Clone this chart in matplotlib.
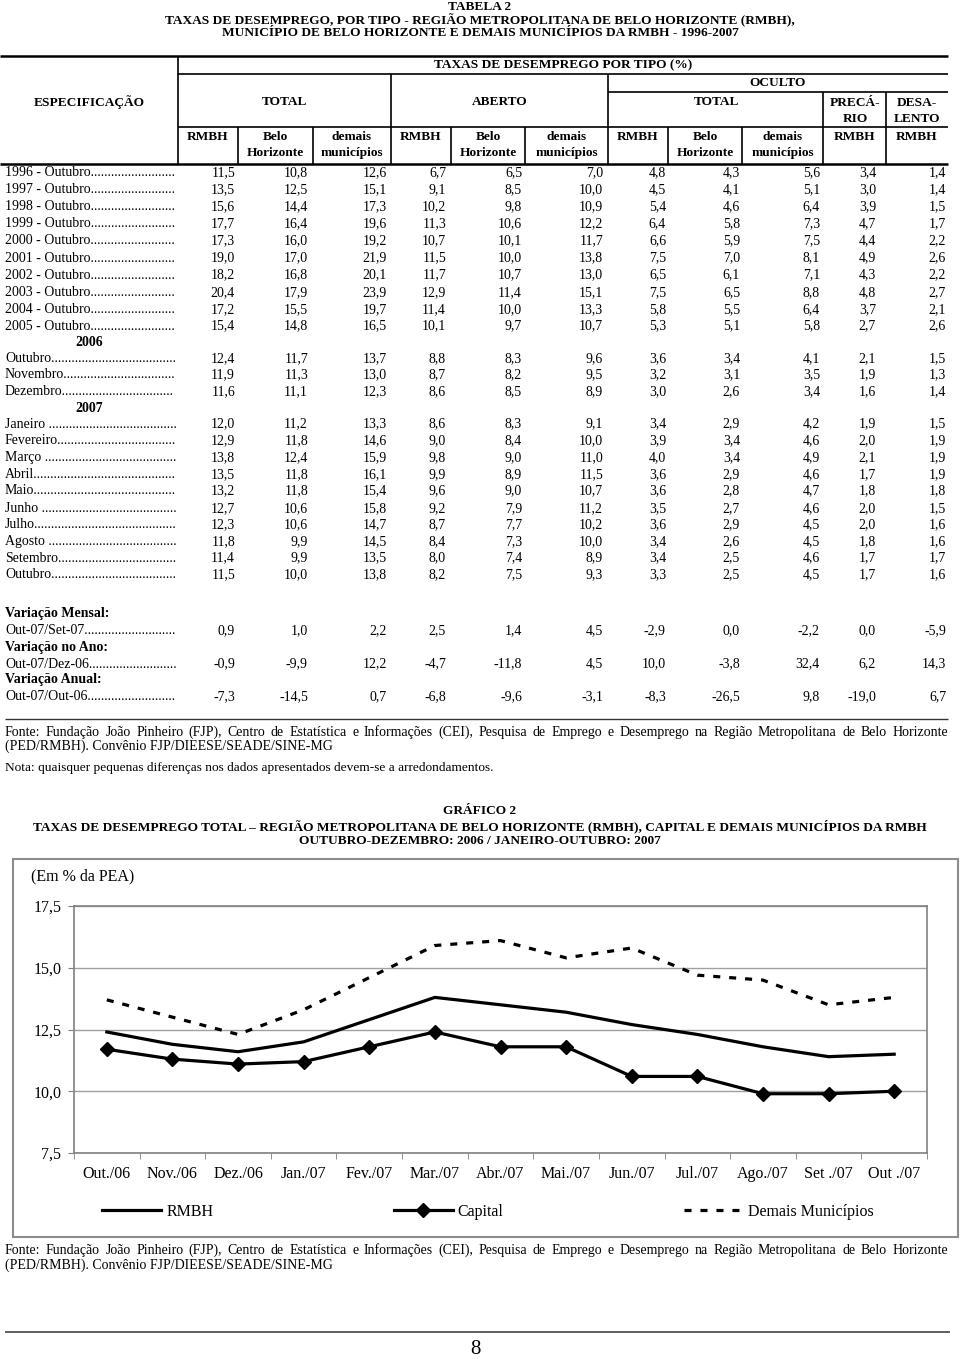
import matplotlib
matplotlib.use("Agg")
import matplotlib.pyplot as plt
from matplotlib.patches import Rectangle

# ---- table data (Tabela 2): one list per column, rows in the table order ----
row_labels = ["1996 - Outubro", "1997 - Outubro", "1998 - Outubro", "1999 - Outubro",
              "2000 - Outubro", "2001 - Outubro", "2002 - Outubro", "2003 - Outubro",
              "2004 - Outubro", "2005 - Outubro",
              "Outubro", "Novembro", "Dezembro",
              "Janeiro ", "Fevereiro", "Março ", "Abril", "Maio", "Junho ", "Julho",
              "Agosto ", "Setembro", "Outubro",
              "Out-07/Set-07", "Out-07/Dez-06", "Out-07/Out-06"]
tot_rmbh = [11.5, 13.5, 15.6, 17.7, 17.3, 19.0, 18.2, 20.4, 17.2, 15.4, 12.4, 11.9, 11.6,
            12.0, 12.9, 13.8, 13.5, 13.2, 12.7, 12.3, 11.8, 11.4, 11.5, 0.9, -0.9, -7.3]
tot_bh = [10.8, 12.5, 14.4, 16.4, 16.0, 17.0, 16.8, 17.9, 15.5, 14.8, 11.7, 11.3, 11.1,
          11.2, 11.8, 12.4, 11.8, 11.8, 10.6, 10.6, 9.9, 9.9, 10.0, 1.0, -9.9, -14.5]
tot_dem = [12.6, 15.1, 17.3, 19.6, 19.2, 21.9, 20.1, 23.9, 19.7, 16.5, 13.7, 13.0, 12.3,
           13.3, 14.6, 15.9, 16.1, 15.4, 15.8, 14.7, 14.5, 13.5, 13.8, 2.2, 12.2, 0.7]
abe_rmbh = [6.7, 9.1, 10.2, 11.3, 10.7, 11.5, 11.7, 12.9, 11.4, 10.1, 8.8, 8.7, 8.6,
            8.6, 9.0, 9.8, 9.9, 9.6, 9.2, 8.7, 8.4, 8.0, 8.2, 2.5, -4.7, -6.8]
abe_bh = [6.5, 8.5, 9.8, 10.6, 10.1, 10.0, 10.7, 11.4, 10.0, 9.7, 8.3, 8.2, 8.5,
          8.3, 8.4, 9.0, 8.9, 9.0, 7.9, 7.7, 7.3, 7.4, 7.5, 1.4, -11.8, -9.6]
abe_dem = [7.0, 10.0, 10.9, 12.2, 11.7, 13.8, 13.0, 15.1, 13.3, 10.7, 9.6, 9.5, 8.9,
           9.1, 10.0, 11.0, 11.5, 10.7, 11.2, 10.2, 10.0, 8.9, 9.3, 4.5, 4.5, -3.1]
ocu_rmbh = [4.8, 4.5, 5.4, 6.4, 6.6, 7.5, 6.5, 7.5, 5.8, 5.3, 3.6, 3.2, 3.0,
            3.4, 3.9, 4.0, 3.6, 3.6, 3.5, 3.6, 3.4, 3.4, 3.3, -2.9, 10.0, -8.3]
ocu_bh = [4.3, 4.1, 4.6, 5.8, 5.9, 7.0, 6.1, 6.5, 5.5, 5.1, 3.4, 3.1, 2.6,
          2.9, 3.4, 3.4, 2.9, 2.8, 2.7, 2.9, 2.6, 2.5, 2.5, 0.0, -3.8, -26.5]
ocu_dem = [5.6, 5.1, 6.4, 7.3, 7.5, 8.1, 7.1, 8.8, 6.4, 5.8, 4.1, 3.5, 3.4,
           4.2, 4.6, 4.9, 4.6, 4.7, 4.6, 4.5, 4.5, 4.6, 4.5, -2.2, 32.4, 9.8]
prec_rmbh = [3.4, 3.0, 3.9, 4.7, 4.4, 4.9, 4.3, 4.8, 3.7, 2.7, 2.1, 1.9, 1.6,
             1.9, 2.0, 2.1, 1.7, 1.8, 2.0, 2.0, 1.8, 1.7, 1.7, 0.0, 6.2, -19.0]
desa_rmbh = [1.4, 1.4, 1.5, 1.7, 2.2, 2.6, 2.2, 2.7, 2.1, 2.6, 1.5, 1.3, 1.4,
             1.5, 1.9, 1.9, 1.9, 1.8, 1.5, 1.6, 1.6, 1.7, 1.6, -5.9, 14.3, 6.7]
columns = [tot_rmbh, tot_bh, tot_dem, abe_rmbh, abe_bh, abe_dem,
           ocu_rmbh, ocu_bh, ocu_dem, prec_rmbh, desa_rmbh]

# ---- chart data (Gráfico 2): Out/06 .. Out/07 = monthly rows of the TOTAL columns ----
months = ["Out./06", "Nov./06", "Dez./06", "Jan./07", "Fev./07", "Mar./07", "Abr./07",
          "Mai./07", "Jun./07", "Jul./07", "Ago./07", "Set ./07", "Out ./07"]
rmbh = tot_rmbh[10:23]
capital = tot_bh[10:23]
demais = tot_dem[10:23]
yticks = [7.5, 10.0, 12.5, 15.0, 17.5]

FONT = "Liberation Serif"
W, H = 960, 1359
plt.rcParams.update({"font.family": FONT, "font.size": 10})

fig = plt.figure(figsize=(W / 100, H / 100), dpi=100)
page = fig.add_axes([0, 0, 1, 1], zorder=0)
page.set_xlim(0, W); page.set_ylim(H, 0); page.axis("off")
rend = fig.canvas.get_renderer()


def fmt(v):
    return f"{v:.1f}".replace(".", ",")


def hline(y, x0, x1, lw=1.2, color="black"):
    page.plot([x0, x1], [y, y], color=color, lw=lw, solid_capstyle="butt")


def vline(x, y0, y1, lw=1.2):
    page.plot([x, x], [y0, y1], color="black", lw=lw, solid_capstyle="butt")


def txt(x, y, s, ha="center", bold=False, **kw):
    kw.setdefault("va", "center")
    return page.text(x, y, s, ha=ha, fontweight="bold" if bold else "normal", **kw)


def leader(y, label, x0=5, xend=177):
    t = txt(x0, y, label, ha="left")
    w = t.get_window_extent(rend).width
    d = txt(0, 0, "." * 20, ha="left")
    wd = d.get_window_extent(rend).width / 20
    d.remove()
    t.set_text(label + "." * max(int((xend - x0 - w) / wd), 0))


def justify(y, line, x0=5, x1=948, fs=10):
    # words share one baseline; the spare width goes into the gaps
    words = line.split()
    ts = [txt(x0, y + 4, w, ha="left", fontsize=fs, va="baseline") for w in words]
    ws = [t.get_window_extent(rend).width for t in ts]
    gap = (x1 - x0 - sum(ws)) / (len(ws) - 1)
    x = x0
    for t, w in zip(ts, ws):
        t.set_x(x)
        x += w + gap


# ---- table title ----
TT = 9.6
txt(480, 7, "TABELA 2", bold=True, fontsize=TT)
txt(480, 20, "TAXAS DE DESEMPREGO, POR TIPO - REGIÃO METROPOLITANA DE BELO HORIZONTE (RMBH),",
    bold=True, fontsize=TT)
txt(480, 33, "MUNICÍPIO DE BELO HORIZONTE E DEMAIS MUNICÍPIOS DA RMBH - 1996-2007",
    bold=True, fontsize=TT)

# ---- table header grid ----
vx = [178, 238, 313, 391, 451, 525, 608, 668, 742, 823, 886, 948]
hline(56, 0, 948, lw=1.8)
hline(74, 178, 948)
hline(92, 608, 948)
hline(127, 178, 948)
hline(164, 0, 948, lw=1.8)
vline(178, 56, 164)
for x in (391, 608):
    vline(x, 74, 164)
for x in (823, 886):
    vline(x, 92, 164)
for x in (238, 313, 451, 525, 668, 742):
    vline(x, 127, 164)

HF = 9.6
txt(563, 65, "TAXAS DE DESEMPREGO POR TIPO (%)", bold=True, fontsize=HF)
txt(778, 83, "OCULTO", bold=True, fontsize=HF)
txt(89, 102, "ESPECIFICAÇÃO", bold=True, fontsize=HF)
txt(285, 102, "TOTAL", bold=True, fontsize=HF)
txt(500, 102, "ABERTO", bold=True, fontsize=HF)
txt(716, 102, "TOTAL", bold=True, fontsize=HF)
txt(855, 103, "PRECÁ-", bold=True, fontsize=HF); txt(855, 119, "RIO", bold=True, fontsize=HF)
txt(917, 103, "DESA-", bold=True, fontsize=HF); txt(917, 119, "LENTO", bold=True, fontsize=HF)
centers = [(vx[i] + vx[i + 1]) / 2 for i in range(11)]
sub_top = ["RMBH", "Belo", "demais"] * 3 + ["RMBH", "RMBH"]
sub_bot = ["", "Horizonte", "municípios"] * 3 + ["", ""]
for cx, a, b in zip(centers, sub_top, sub_bot):
    txt(cx, 137, a, bold=True, fontsize=HF)
    if b:
        txt(cx, 153, b, bold=True, fontsize=HF)

# ---- table body ----
row_y = [172.5, 189.6, 206.7, 223.8, 240.9, 258.0, 275.1, 292.2, 309.3, 326.0,
         358.5, 375.0, 391.5,
         424.0, 441.0, 458.0, 475.0, 491.0, 508.5, 525.0, 542.0, 558.0, 575.0,
         631.0, 664.0, 697.0]
val_right = [235, 308, 387, 446, 522, 603, 666, 740, 820, 876, 946]
for i, (lab, y) in enumerate(zip(row_labels, row_y)):
    leader(y, lab)
    for col, xr in zip(columns, val_right):
        txt(xr, y, fmt(col[i]), ha="right")

txt(89, 342, "2006", bold=True)
txt(89, 408, "2007", bold=True)
txt(5, 614, "Variação Mensal:", ha="left", bold=True)
txt(5, 647, "Variação no Ano:", ha="left", bold=True)
txt(5, 680, "Variação Anual:", ha="left", bold=True)

hline(719, 5, 948, lw=1.0, color="#333333")
FONTE = ("Fonte: Fundação João Pinheiro (FJP), Centro de Estatística e Informações (CEI), "
         "Pesquisa de Emprego e Desemprego na Região Metropolitana de Belo Horizonte")
FONTE2 = "(PED/RMBH). Convênio FJP/DIEESE/SEADE/SINE-MG"
justify(732, FONTE)
txt(5, 746, FONTE2, ha="left")
txt(5, 768, "Nota: quaisquer pequenas diferenças nos dados apresentados devem-se a arredondamentos.",
    ha="left", fontsize=9.6)

# ---- chart title and frame ----
txt(480, 811, "GRÁFICO 2", bold=True, fontsize=TT)
txt(480, 826, "TAXAS DE DESEMPREGO TOTAL – REGIÃO METROPOLITANA DE BELO HORIZONTE (RMBH), "
    "CAPITAL E DEMAIS MUNICÍPIOS DA RMBH", bold=True, fontsize=TT)
txt(480, 841, "OUTUBRO-DEZEMBRO: 2006 / JANEIRO-OUTUBRO: 2007", bold=True, fontsize=TT)
page.add_patch(Rectangle((13, 859), 945, 378, fill=False, ec="#8c8c8c", lw=1.5))
txt(31, 876, "(Em % da PEA)", ha="left", fontsize=11.5)

# ---- chart ----
ax = fig.add_axes([74 / W, 1 - 1153 / H, 853 / W, 247 / H], zorder=1)
ax.set_facecolor("none")
x = range(len(months))
ax.plot(x, rmbh, color="black", lw=2.3, label="RMBH")
ax.plot(x, capital, color="black", lw=2.3, marker="D", ms=7, label="Capital")
ax.plot(x, demais, color="black", lw=2.3, ls=(0, (2.2, 2.8)), label="Demais Municípios")

ax.set_xlim(-0.5, len(months) - 0.5)
ax.set_ylim(yticks[0], yticks[-1])
ax.set_yticks(yticks)
ax.set_yticklabels([fmt(v) for v in yticks], fontsize=11.5)
ax.set_xticks(list(x))
ax.set_xticklabels(months, fontsize=11.5)
ax.set_xticks([i - 0.5 for i in range(len(months) + 1)], minor=True)
ax.tick_params(axis="x", which="major", length=0, pad=9)
ax.tick_params(axis="x", which="minor", length=4, color="#808080", direction="out")
ax.tick_params(axis="y", length=4, color="#808080", pad=5)
ax.grid(True, axis="y", color="#a0a0a0", lw=1.0)
ax.set_axisbelow(True)
for s in ax.spines.values():
    s.set_color("#808080"); s.set_linewidth(1.2)

fig.legend(*ax.get_legend_handles_labels(), loc="center", bbox_to_anchor=(488 / W, 1 - 1212 / H),
           ncol=3, frameon=False, fontsize=11.5, handlelength=3.7, handletextpad=0.3,
           columnspacing=11.3)

# ---- source and page number ----
justify(1250, FONTE)
txt(5, 1265, FONTE2, ha="left")
hline(1332, 5, 950, lw=1.2, color="#444444")
txt(475, 1350, "8", fontsize=15)

fig.savefig("out.png", dpi=100, facecolor="white")
